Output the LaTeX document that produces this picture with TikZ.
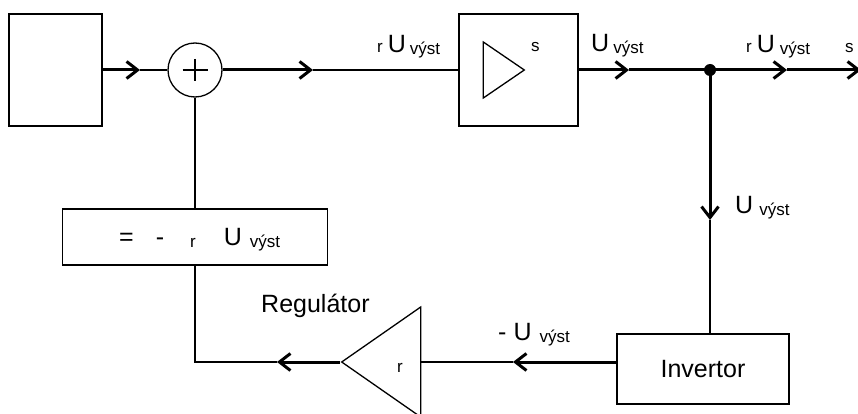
\documentclass[tikz,border=0pt]{standalone}
\usepackage{fontspec}
\setmainfont{Liberation Sans}
\usetikzlibrary{arrows.meta,positioning,shapes.geometric}
\newcommand{\sml}[1]{{\fontsize{17}{20}\selectfont #1}}
\newcommand{\lowsml}[1]{\raisebox{-2pt}{\sml{#1}}}

\begin{document}
\begin{tikzpicture}[x=1pt, y=-1pt,
    blk/.style={draw, line width=1.3pt, inner sep=0pt},
    wire/.style={line width=1.1pt},
    bus/.style={line width=3pt},
    sig/.style={bus, -{Straight Barb[length=11pt, width=17pt]}},
    lbl/.style={font=\fontsize{25}{30}\selectfont, inner sep=0pt, anchor=base west}]
\useasboundingbox (0,0) rectangle (858,414);
% blocks
\node[blk, minimum width=93pt, minimum height=112pt] (src) at (55.5,70) {};
\node[blk, circle, minimum size=54pt] (sum) at (195,70) {};
\draw[wire] ([xshift=-12.5pt]sum.center) -- ([xshift=12.5pt]sum.center)
  ([yshift=11pt]sum.center) -- ([yshift=-11pt]sum.center);
\node[blk, minimum width=119pt, minimum height=112pt] (amp) at (518.5,70) {};
\node[blk, isosceles triangle, isosceles triangle stretches,
  minimum width=56pt, minimum height=41pt, anchor=apex] (ampsym) at (526,70) {};
\node[lbl] (amps) at (531,52) {\sml{s}};
\node[blk, minimum width=172pt, minimum height=70pt,
  font=\fontsize{25}{30}\selectfont] (inv) at (703,369) {Invertor};
\node[blk, isosceles triangle, isosceles triangle stretches, shape border rotate=180,
  minimum width=110pt, minimum height=79pt, anchor=apex] (reg) at (340,362) {};
\node[lbl] (regr) at (397,372) {\sml{r}};
\node[lbl] (reglbl) at (261,312) {Regulátor};
\node[blk, minimum width=265pt, minimum height=56pt] (fb) at (195,237) {};
\node[lbl] (fbtxt) at (119,245)
  {=\hspace{22pt}-\hspace{26pt}\lowsml{r}\hspace{28pt}U\hspace{8pt}\lowsml{výst}};
% arrow tips and branch point
\coordinate (t1) at (140,70);
\coordinate (t2) at (313,70);
\coordinate (t3) at (629,70);
\coordinate (jn) at (710,70);
\coordinate (t4) at (787,70);
\coordinate (outp) at (861,70);
\coordinate (t6) at (710,220);
\coordinate (t7) at (513,362);
\coordinate (t8) at (277,362);
% forward path
\draw[sig] (src) -- (t1);
\draw[wire] (t1) -- (sum);
\draw[sig] (sum) -- (t2);
\draw[wire] (t2) -- (amp);
\draw[sig] (amp) -- (t3);
\draw[bus] (t3) -- (jn);
\draw[sig] (jn) -- (t4);
\draw[sig] (t4) -- (outp);
\fill (jn) circle (6pt);
% feedback path
\draw[sig] (jn) -- (t6);
\draw[wire] (t6) -- (t6 |- inv.north);
\draw[sig] (reg -| inv.west) -- (t7);
\draw[wire] (t7) -- (reg.lower side);
\draw[sig] (reg.apex) -- (t8);
\draw[wire] (t8) -| (fb);
\draw[wire] (fb) -- (sum);
% signal labels
\node[lbl] (uin) at (377,53) {\sml{r}\hspace{5pt}U\hspace{4pt}\lowsml{výst}};
\node[lbl] (uout) at (591,52) {U\hspace{4pt}\lowsml{výst}};
\node[lbl] (uload) at (746,53) {\sml{r}\hspace{5pt}U\hspace{5pt}\lowsml{výst}};
\node[lbl] (outs) at (845,53) {\sml{s}};
\node[lbl] (ufb) at (735,213) {U\hspace{6pt}\lowsml{výst}};
\node[lbl] (uneg) at (498,340) {-\hspace{7pt}U\hspace{8pt}\lowsml{výst}};
\end{tikzpicture}
\end{document}
